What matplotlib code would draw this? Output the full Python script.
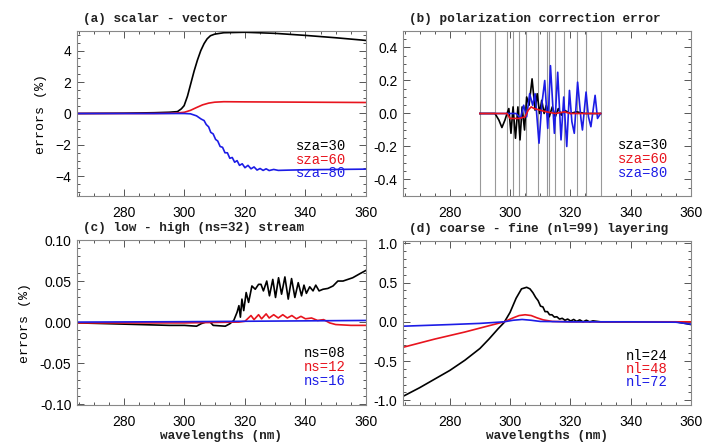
import matplotlib
matplotlib.use("Agg")
import matplotlib.pyplot as plt
from matplotlib.ticker import MultipleLocator

# ---------------- data ----------------
# (a) scalar - vector
a_x_black = [265, 280, 290, 295, 297.7, 299, 299.9, 301, 302.1, 303.2, 304.3, 305.4, 306.5, 307.5,
             308.6, 310, 313, 320, 330, 340, 350, 360]
a_y_black = [0.0, 0.02, 0.05, 0.08, 0.12, 0.3, 0.5, 1.1, 1.9, 2.7, 3.4, 4.0, 4.45, 4.75,
             4.95, 5.05, 5.14, 5.17, 5.1, 4.97, 4.82, 4.65]
a_x_red = [265, 290, 297, 300, 302, 304, 306, 308, 310, 313, 320, 340, 360]
a_y_red = [0.0, 0.0, 0.02, 0.08, 0.2, 0.38, 0.55, 0.66, 0.72, 0.75, 0.74, 0.72, 0.7]
a_x_blue = [265, 300, 302, 304, 305.5, 306.5, 307.2, 308, 308.7, 309.5, 310.3, 311, 311.8, 312.6,
            313.4, 314.2, 315, 315.8, 316.6, 317.4, 318.2, 319.1, 320, 321, 322, 323, 324, 325,
            326, 327, 328, 329.5, 331, 335, 340, 350, 360]
a_y_blue = [0.0, 0.0, -0.02, -0.15, -0.35, -0.45, -0.7, -0.85, -1.2, -1.3, -1.65, -1.75, -2.1, -2.15,
            -2.5, -2.5, -2.85, -2.8, -3.1, -3.0, -3.3, -3.2, -3.45, -3.3, -3.52, -3.4, -3.6, -3.5,
            -3.62, -3.52, -3.63, -3.56, -3.62, -3.6, -3.58, -3.56, -3.54]

# (b) polarization correction error
b_vlines = [290, 295, 299, 301, 303, 305.2, 309.4, 312.1, 312.8, 315, 317.8, 322.2, 325.3, 330]
b_x_black = [290, 295, 296.3, 297.3, 298.3, 299, 299.6, 300.3, 301, 301.8, 302.6, 303.3, 304.0,
             304.8, 305.5, 306.3, 307.3, 308.3, 309.0, 309.8, 310.5, 311.3, 312.0, 313, 314, 315,
             316, 317, 318, 320, 322, 325, 330]
b_y_black = [0, 0, -0.04, -0.085, -0.04, 0, 0.03, -0.12, 0.04, -0.15, 0.04, -0.16, 0.04,
             -0.1, 0.1, 0.05, 0.21, 0.02, 0.12, 0.0, 0.08, 0.0, 0.05, -0.02, 0.04, -0.02,
             0.03, -0.01, 0.02, 0.0, 0.01, 0.0, 0.0]
b_x_blue = [290, 300, 302, 303.5, 304.5, 305.5, 306.5, 307.5, 308.3, 309.6, 310.5, 311.5, 312.5,
            313.4, 314.7, 315.8, 316.9, 317.8, 318.8, 319.7, 320.5, 321.3, 322.4, 323.5, 324.0,
            325.2, 326.0, 326.8, 328.2, 329.0, 330]
b_y_blue = [0, 0, 0.0, -0.03, 0.05, -0.02, 0.12, 0.05, 0.12, -0.18, 0.05, 0.2, -0.09,
            0.29, -0.12, 0.25, -0.16, 0.1, -0.2, 0.14, -0.05, -0.12, 0.19, -0.03, -0.1,
            0.13, -0.02, -0.08, 0.11, -0.03, 0.0]
b_x_red = [290, 299, 300, 303, 305, 306, 307, 308, 310, 312, 315, 318, 320, 325, 330]
b_y_red = [0, 0, -0.03, -0.03, -0.02, 0.02, 0.04, 0.03, 0.02, 0.01, 0.0, 0.01, 0.0, 0.0, 0.0]

# (c) low - high (ns=32) stream
c_x_black = [265, 275, 285, 295, 300, 304, 305.5, 307, 308.5, 309.5, 313.5, 315, 316.3, 317.4,
             318, 318.5, 319, 319.6, 320.4, 321.2, 322.3, 323.4, 324.5, 325.3, 326.1, 327.2,
             328.1, 329.2, 330.1, 331.1, 332.1, 333.2, 334.3, 335.4, 336.5, 337.6, 338.7,
             339.5, 340.3, 341.4, 342.5, 343.4, 344.5, 345.8, 347.4, 349.1, 350.7, 352.4,
             354, 355.6, 358, 360]
c_y_black = [-0.001, -0.002, -0.003, -0.004, -0.004, -0.005, -0.002, 0.0, 0.0, -0.004, -0.005,
             -0.002, 0.002, 0.012, 0.02, 0.006, 0.028, 0.014, 0.036, 0.024, 0.044, 0.04,
             0.046, 0.046, 0.038, 0.05, 0.032, 0.052, 0.03, 0.054, 0.034, 0.055, 0.028,
             0.053, 0.03, 0.048, 0.032, 0.045, 0.035, 0.043, 0.038, 0.045, 0.038, 0.04,
             0.041, 0.044, 0.05, 0.05, 0.052, 0.054, 0.059, 0.063]
c_x_red = [265, 300, 318, 320, 322, 323, 324.5, 325.5, 327, 328, 329.5, 331, 332.5, 334,
           335.5, 337, 338.5, 340, 342, 344, 346, 348, 350, 355, 360]
c_y_red = [-0.001, -0.001, 0.0, 0.001, 0.008, 0.003, 0.009, 0.004, 0.01, 0.005, 0.009, 0.005,
           0.009, 0.005, 0.008, 0.004, 0.007, 0.004, 0.005, 0.002, 0.003, -0.001, -0.003,
           -0.004, -0.004]
c_x_blue = [265, 300, 320, 340, 360]
c_y_blue = [0.0, 0.0005, 0.001, 0.0015, 0.002]

# (d) coarse - fine (nl=99) layering
d_x_black = [265, 270, 275, 280, 285, 290, 293, 296, 298, 300, 302, 303.8, 305.5, 306.6, 307.6,
             308.5, 309.3, 310.1, 310.9, 311.6, 312.4, 313.1, 313.9, 314.7, 315.5, 316.4, 317.3,
             318.2, 319.1, 320.1, 321.1, 322.1, 323.1, 324.2, 325.3, 326.4, 327.5, 330, 340,
             350, 355, 358, 360]
d_y_black = [-0.94, -0.84, -0.73, -0.62, -0.49, -0.34, -0.22, -0.09, -0.01, 0.12, 0.3, 0.42,
             0.44, 0.42, 0.37, 0.31, 0.27, 0.2, 0.19, 0.13, 0.13, 0.09, 0.09, 0.06, 0.065,
             0.035, 0.045, 0.02, 0.035, 0.01, 0.03, 0.005, 0.025, 0.0, 0.02, 0.0, 0.012, 0.0,
             0.0, 0.0, 0.0, -0.02, -0.035]
d_x_red = [265, 275, 285, 292, 298, 301, 303, 305, 307, 309, 311, 314, 320, 360]
d_y_red = [-0.32, -0.22, -0.13, -0.06, 0.0, 0.05, 0.08, 0.09, 0.08, 0.05, 0.025, 0.005, 0.0, 0.0]
d_x_blue = [265, 280, 290, 298, 301, 304, 307, 310, 320, 340, 355, 360]
d_y_blue = [-0.055, -0.035, -0.02, 0.0, 0.02, 0.03, 0.02, 0.005, 0.0, 0.0, -0.005, -0.03]

titles = ["(a) scalar - vector", "(b) polarization correction error",
          "(c) low - high (ns=32) stream", "(d) coarse - fine (nl=99) layering"]
legend_sza = ["sza=30", "sza=60", "sza=80"]
legend_ns = ["ns=08", "ns=12", "ns=16"]
legend_nl = ["nl=24", "nl=48", "nl=72"]

# ---------------- styling ----------------
BLACK = "black"
RED = "#e8141e"
BLUE = "#1c1ce6"
MONO = "Liberation Mono"
SANS = "Liberation Sans"

fig = plt.figure(figsize=(7.04, 4.44), dpi=100)
W, H = 704, 444


def axes_px(l, t, r, b):
    return fig.add_axes([l / W, 1 - b / H, (r - l) / W, (b - t) / H])


ax_a = axes_px(77, 31, 366, 196)
ax_b = axes_px(403, 31, 691, 196)
ax_c = axes_px(77, 240, 366, 405)
ax_d = axes_px(403, 241, 691, 405)

for ax in (ax_a, ax_b, ax_c, ax_d):
    ax.set_xlim(264.5, 360)
    ax.xaxis.set_major_locator(MultipleLocator(20))
    ax.xaxis.set_minor_locator(MultipleLocator(5))
    ax.tick_params(which="both", direction="in", top=True, right=True, colors="#555555",
                   labelcolor="black", labelsize=10, width=0.7)
    ax.tick_params(which="major", length=5)
    ax.tick_params(which="minor", length=2.5)
    ax.tick_params(axis="x", pad=7)
    ax.tick_params(axis="y", pad=4)
    for s in ax.spines.values():
        s.set_color("#888888")
        s.set_linewidth(0.8)

lw = 1.2

# (a)
ax_a.plot(a_x_black, a_y_black, color=BLACK, lw=lw)
ax_a.plot(a_x_red, a_y_red, color=RED, lw=lw)
ax_a.plot(a_x_blue, a_y_blue, color=BLUE, lw=lw)
ax_a.set_ylim(-5.25, 5.25)
ax_a.yaxis.set_major_locator(MultipleLocator(2))
ax_a.yaxis.set_minor_locator(MultipleLocator(0.5))

# (b)
for xv in b_vlines:
    ax_b.axvline(xv, color="#999999", lw=0.8)
ax_b.plot(b_x_black, b_y_black, color=BLACK, lw=lw)
ax_b.plot(b_x_blue, b_y_blue, color=BLUE, lw=lw)
ax_b.plot(b_x_red, b_y_red, color=RED, lw=lw)
ax_b.set_ylim(-0.5, 0.5)
ax_b.yaxis.set_major_locator(MultipleLocator(0.2))
ax_b.yaxis.set_minor_locator(MultipleLocator(0.05))
ax_b.yaxis.set_major_formatter(plt.FuncFormatter(lambda v, p: f"{v:.1f}".replace("-0.0", "0.0")))

# (c)
ax_c.plot(c_x_black, c_y_black, color=BLACK, lw=lw)
ax_c.plot(c_x_red, c_y_red, color=RED, lw=lw)
ax_c.plot(c_x_blue, c_y_blue, color=BLUE, lw=lw)
ax_c.set_ylim(-0.101, 0.1)
ax_c.yaxis.set_major_locator(MultipleLocator(0.05))
ax_c.yaxis.set_minor_locator(MultipleLocator(0.01))
ax_c.yaxis.set_major_formatter(plt.FuncFormatter(lambda v, p: f"{v:.2f}".replace("-0.00", "0.00")))

# (d)
ax_d.plot(d_x_black, d_y_black, color=BLACK, lw=lw)
ax_d.plot(d_x_red, d_y_red, color=RED, lw=lw)
ax_d.plot(d_x_blue, d_y_blue, color=BLUE, lw=lw)
ax_d.set_ylim(-1.06, 1.03)
ax_d.yaxis.set_major_locator(MultipleLocator(0.5))
ax_d.yaxis.set_minor_locator(MultipleLocator(0.1))
ax_d.yaxis.set_major_formatter(plt.FuncFormatter(lambda v, p: f"{v:.1f}".replace("-0.0", "0.0")))

for ax in (ax_a, ax_b, ax_c, ax_d):
    for lab in ax.get_xticklabels() + ax.get_yticklabels():
        lab.set_fontfamily(SANS)

# titles
for ax, t in zip((ax_a, ax_b, ax_c, ax_d), titles):
    ax.text(0.022, 1.035, t, transform=ax.transAxes, ha="left", va="bottom",
            fontfamily=MONO, fontweight="bold", fontsize=9.2, color="#222222")

# legends (coloured text)
def legend(ax, labels, xr, ys):
    for lab, col, y in zip(labels, (BLACK, RED, BLUE), ys):
        ax.text(xr, y, lab, transform=ax.transAxes, ha="right", va="center",
                fontfamily=MONO, fontsize=10, color=col)

legend(ax_a, legend_sza, 0.93, (0.30, 0.22, 0.14))
legend(ax_b, legend_sza, 0.92, (0.31, 0.225, 0.14))
legend(ax_c, legend_ns, 0.93, (0.313, 0.228, 0.145))
legend(ax_d, legend_nl, 0.92, (0.30, 0.22, 0.14))

for ax in (ax_a, ax_c):
    ax.set_ylabel("errors (%)", fontfamily=MONO, fontsize=9.5, labelpad=6)
for ax in (ax_c, ax_d):
    ax.set_xlabel("wavelengths (nm)", fontfamily=MONO, fontweight="bold", fontsize=9.2,
                  labelpad=1, color="#222222")

fig.savefig("out.png", dpi=100)
